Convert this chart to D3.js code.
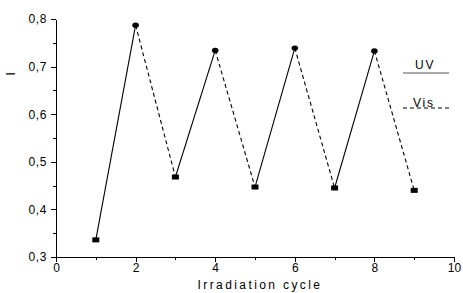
<!DOCTYPE html>
<html lang="en">
<head>
<meta charset="utf-8">
<title>Irradiation cycle</title>
<script src="https://cdn.jsdelivr.net/npm/d3@7"></script>
<style>
  body { margin: 0; background: #fff; }
  text { font-family: "Liberation Sans", Arial, sans-serif; fill: #000; }
  .axis path, .axis line { stroke: #000; shape-rendering: crispEdges; }
</style>
</head>
<body>
<div id="chart"></div>
<script>
// data
var cycles = [1, 2, 3, 4, 5, 6, 7, 8, 9];
var intensity = [0.336, 0.787, 0.468, 0.734, 0.447, 0.739, 0.445, 0.733, 0.440];
var xTicks = [0, 2, 4, 6, 8, 10];
var yTicks = [0.3, 0.4, 0.5, 0.6, 0.7, 0.8];
var legendItems = ["UV", "Vis"];

var W = 463, H = 293;
var margin = {top: 19, right: 9, bottom: 36, left: 56};
var w = W - margin.left - margin.right,
    h = H - margin.top - margin.bottom;

var svg = d3.select("#chart").append("svg")
  .attr("width", W).attr("height", H)
  .append("g")
  .attr("transform", "translate(" + margin.left + "," + margin.top + ")");

var x = d3.scaleLinear().domain([0, 10]).range([0, w]);
var y = d3.scaleLinear().domain([0.3, 0.8]).range([h, 0]);
var fmt = function(d) { return d3.format(".1f")(d).replace(".", ","); };

// minor ticks
svg.append("g").attr("class", "axis")
  .call(d3.axisLeft(y).tickValues(d3.range(0.35, 0.8, 0.1)).tickSize(3).tickFormat(""))
  .select(".domain").remove();
svg.append("g").attr("class", "axis")
  .attr("transform", "translate(0," + h + ")")
  .call(d3.axisBottom(x).tickValues(d3.range(1, 10, 2)).tickSize(3).tickFormat(""))
  .select(".domain").remove();

// major axes
var yAx = svg.append("g").attr("class", "axis")
  .call(d3.axisLeft(y).tickValues(yTicks).tickSize(5).tickSizeOuter(0).tickFormat(fmt));
yAx.selectAll("text").style("font-size", "12px").style("letter-spacing", "0.6px").attr("x", -9);

var xAx = svg.append("g").attr("class", "axis")
  .attr("transform", "translate(0," + h + ")")
  .call(d3.axisBottom(x).tickValues(xTicks).tickSize(5).tickSizeOuter(0));
xAx.selectAll("text").style("font-size", "12px").attr("y", 6);
svg.selectAll(".domain").attr("stroke-width", 1.3);

// axis titles
svg.append("text")
  .attr("x", w / 2 + 5).attr("y", h + 32)
  .attr("text-anchor", "middle")
  .style("font-size", "12px").style("letter-spacing", "2.4px")
  .text("Irradiation cycle");
svg.append("text")
  .attr("transform", "translate(-41," + y(0.685) + ") rotate(-90)")
  .attr("text-anchor", "middle")
  .style("font-size", "12px")
  .text("I");

// segments: odd->even solid (UV), even->odd dashed (Vis)
var segs = d3.range(cycles.length - 1).map(function(i) {
  return {x1: cycles[i], y1: intensity[i], x2: cycles[i + 1], y2: intensity[i + 1], dashed: i % 2 === 1};
});
svg.selectAll(".seg").data(segs).enter().append("line")
  .attr("class", "seg")
  .attr("x1", function(d) { return x(d.x1); })
  .attr("y1", function(d) { return y(d.y1); })
  .attr("x2", function(d) { return x(d.x2); })
  .attr("y2", function(d) { return y(d.y2); })
  .attr("stroke", "#000").attr("stroke-width", 1.1)
  .attr("stroke-dasharray", function(d) { return d.dashed ? "4,3" : null; });

// markers: squares at lows, ellipses at highs
var pts = cycles.map(function(c, i) { return {c: c, v: intensity[i]}; });
svg.selectAll(".sq").data(pts.filter(function(d, i) { return i % 2 === 0; }))
  .enter().append("rect")
  .attr("x", function(d) { return x(d.c) - 3.5; })
  .attr("y", function(d) { return y(d.v) - 2.5; })
  .attr("width", 7).attr("height", 5).attr("fill", "#000");
svg.selectAll(".dot").data(pts.filter(function(d, i) { return i % 2 === 1; }))
  .enter().append("ellipse")
  .attr("cx", function(d) { return x(d.c); })
  .attr("cy", function(d) { return y(d.v); })
  .attr("rx", 3.3).attr("ry", 2.6).attr("fill", "#000");

// legend
var lg = svg.selectAll(".legend").data(legendItems).enter().append("g")
  .attr("class", "legend")
  .attr("transform", function(d, i) { return "translate(" + (403 - margin.left) + "," + (73 - margin.top + i * 35) + ")"; });
lg.append("line")
  .attr("x1", 0).attr("x2", 46).attr("y1", 0).attr("y2", 0)
  .attr("stroke", function(d, i) { return i ? "#000" : "#555"; })
  .attr("stroke-width", 1)
  .attr("stroke-dasharray", function(d, i) { return i ? "4,3" : null; });
lg.append("text")
  .attr("x", function(d, i) { return i ? 10 : 12; })
  .attr("y", function(d, i) { return i ? -1 : -4; })
  .style("font-size", "12px").style("letter-spacing", "1.8px")
  .text(function(d) { return d; });
</script>
</body>
</html>
